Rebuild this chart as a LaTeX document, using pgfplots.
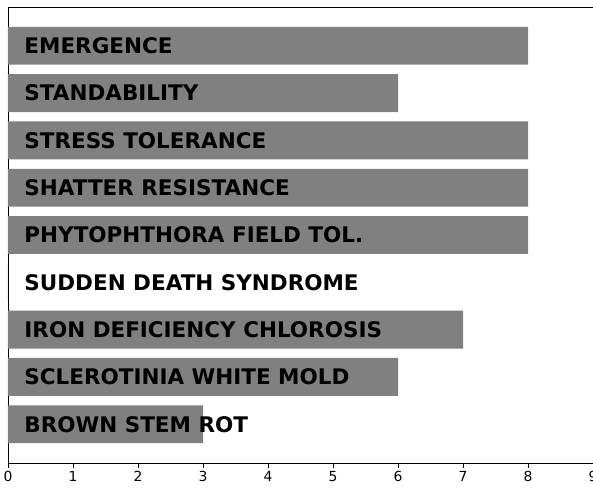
\documentclass[border=0pt]{standalone}
\usepackage{fontspec}
\setmainfont{DejaVu Sans}
\usepackage{pgfplots}
\pgfplotsset{compat=1.18}
\definecolor{bargray}{RGB}{128,128,128}
\begin{document}
\begin{tikzpicture}
\begin{axis}[
  scale only axis,
  width=585bp, height=456bp,
  xmin=0, xmax=9,
  ymin=-0.82, ymax=8.82,
  xtick={0,1,...,9},
  ytick=\empty,
  tick align=outside,
  xtick pos=bottom,
  major tick length=5bp,
  axis line style={line width=0.9bp, black},
  tick style={line width=0.8bp, black},
  /pgf/number format/assume math mode=true,
  ticklabel style={font=\fontsize{13.9bp}{16bp}\selectfont},
  xbar, bar width=0.8,
  clip=false,
]
\addplot[fill=bargray, draw=none] coordinates {
  (8,8) (6,7) (8,6) (8,5) (8,4) (0,3) (7,2) (6,1) (3,0)
};
\foreach \lab/\yy in {EMERGENCE/8, STANDABILITY/7, STRESS TOLERANCE/6, SHATTER RESISTANCE/5, PHYTOPHTHORA FIELD TOL./4, SUDDEN DEATH SYNDROME/3, IRON DEFICIENCY CHLOROSIS/2, SCLEROTINIA WHITE MOLD/1, BROWN STEM ROT/0} {
  \edef\tmp{\noexpand\node[anchor=west, inner sep=0pt, font=\noexpand\fontsize{21.5bp}{24bp}\noexpand\selectfont\noexpand\bfseries] at (axis cs:0.25,\yy) {\lab};}
  \tmp
}
\coordinate (bl) at (rel axis cs:0,0);
\coordinate (tr) at (rel axis cs:1,1);
\end{axis}
\pgfresetboundingbox
\path[use as bounding box] ([shift={(-8bp,-25bp)}]bl) rectangle ([shift={(0bp,7bp)}]tr);
\end{tikzpicture}
\end{document}
